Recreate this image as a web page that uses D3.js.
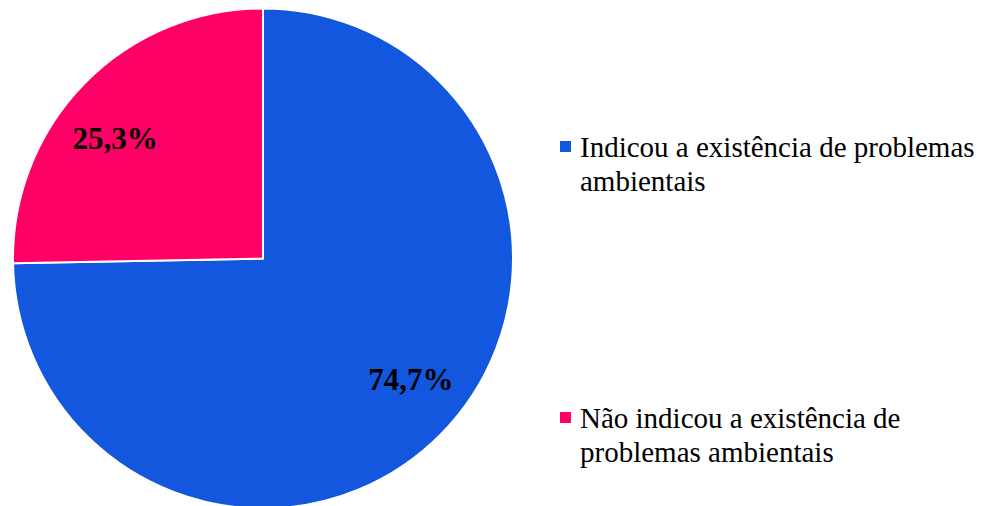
<!DOCTYPE html>
<html><head><meta charset="utf-8">
<script src="https://cdn.jsdelivr.net/npm/d3@7"></script>
<style>html,body{margin:0;padding:0;background:#fff;}svg{display:block;}</style>
</head><body>
<svg id="chart" width="986" height="506"></svg>
<script>
const categories = ["Indicou a existência de problemas ambientais", "Não indicou a existência de problemas ambientais"];
const legendLines = [["Indicou a existência de problemas", "ambientais"], ["Não indicou a existência de", "problemas ambientais"]];
const values = [74.7, 25.3];
const labels = ["74,7%", "25,3%"];
const colors = ["#1357DF", "#FF0066"];

const svg = d3.select("#chart");
const cx = 263, cy = 258.5, r = 250;
const g = svg.append("g").attr("transform", `translate(${cx},${cy})`);
const pie = d3.pie().sort(null).value(d => d)(values);
const arc = d3.arc().innerRadius(0).outerRadius(r);
g.selectAll("path").data(pie).join("path")
  .attr("d", arc).attr("fill", (d,i) => colors[i])
  .attr("stroke", "#fff").attr("stroke-width", 2);

const labelR = 191, rot = -0.09;
g.selectAll("text.lbl").data(pie).join("text").attr("class","lbl")
  .attr("x", d => labelR * Math.sin((d.startAngle + d.endAngle)/2 + rot))
  .attr("y", d => -labelR * Math.cos((d.startAngle + d.endAngle)/2 + rot) + 11)
  .attr("text-anchor", "middle")
  .attr("font-family", "'Liberation Serif','Times New Roman',serif")
  .attr("font-weight", "bold").attr("font-size", 31).attr("fill", "#000")
  .text((d,i) => labels[i]);

const legY = [157, 428];
const leg = svg.append("g");
categories.forEach((c, i) => {
  leg.append("rect").attr("x", 560).attr("y", legY[i] - 16).attr("width", 11).attr("height", 11).attr("fill", colors[i]);
  const t = leg.append("text").attr("x", 580).attr("y", legY[i])
    .attr("font-family", "'Liberation Serif','Times New Roman',serif")
    .attr("font-size", 29).attr("fill", "#000");
  legendLines[i].forEach((ln, j) => {
    t.append("tspan").attr("x", 580).attr("y", legY[i] + j * 34).text(ln);
  });
});
</script>
</body></html>
